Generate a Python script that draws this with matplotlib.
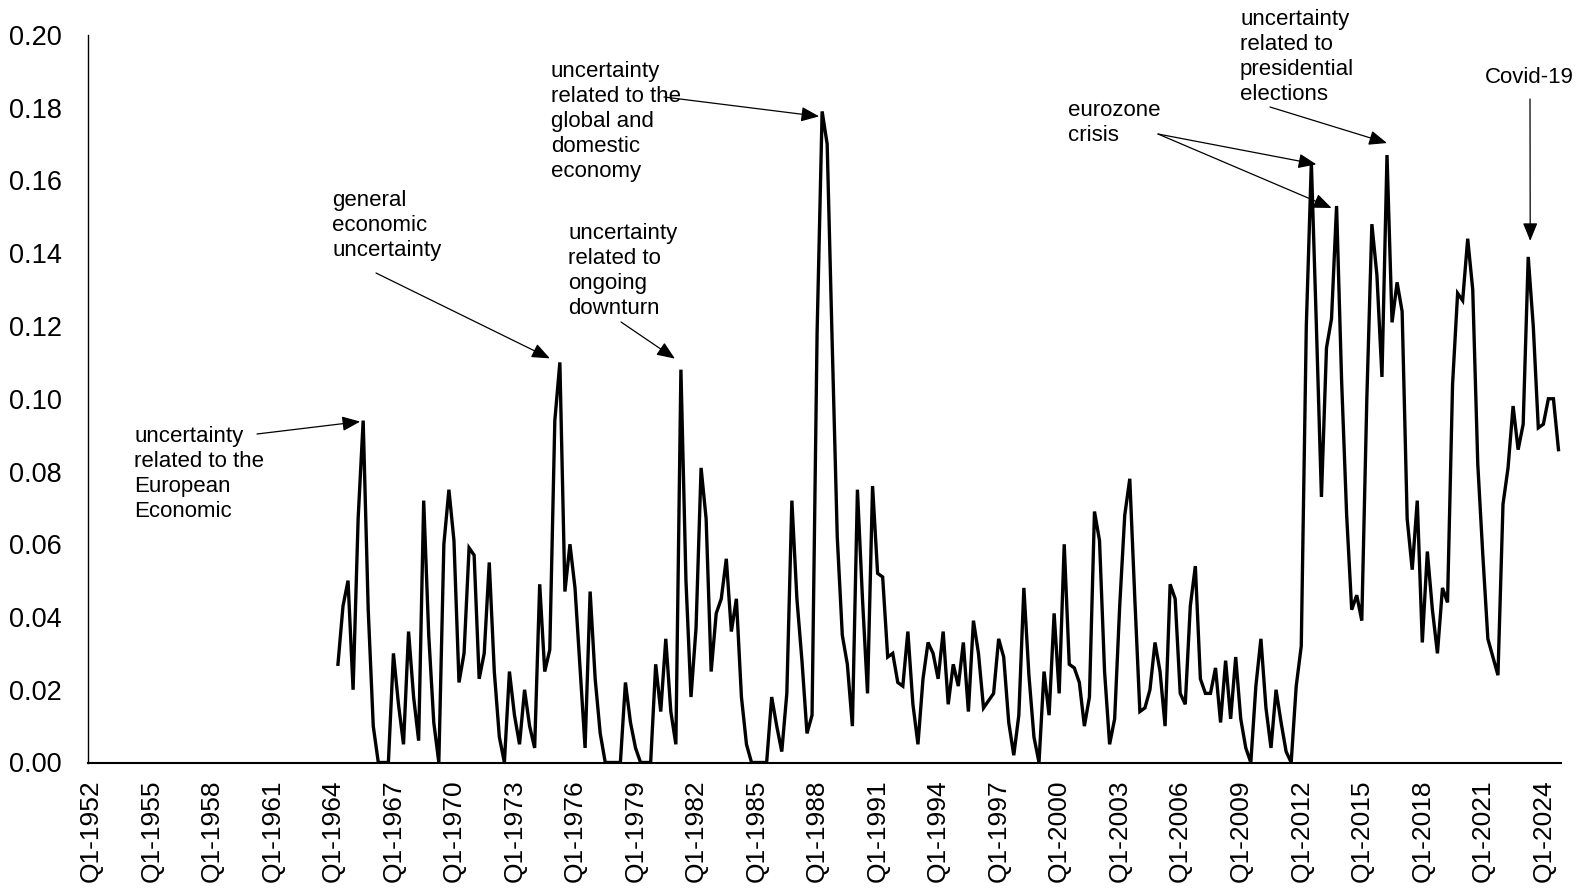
import matplotlib
matplotlib.use("Agg")
import matplotlib.pyplot as plt
from matplotlib.transforms import offset_copy
import numpy as np

plt.rcParams['font.family'] = ['Liberation Sans', 'DejaVu Sans']

# quarterly categories Q1-1952 ... Q4-2024
years = list(range(1952, 2025))
quarters = [f"Q{k}-{y}" for y in years for k in (1, 2, 3, 4)]
tick_labels = [f"Q1-{y}" for y in years[::3]]

# index values, first observation Q2-1964
start_label = "Q2-1964"
values = [
    0.027, 0.043, 0.050, 0.020, 0.067, 0.094, 0.042, 0.010, 0.0, 0.0,
    0.0, 0.030, 0.016, 0.005, 0.036, 0.018, 0.006, 0.072, 0.035, 0.011,
    0.0, 0.060, 0.075, 0.061, 0.022, 0.030, 0.059, 0.057, 0.023, 0.030,
    0.055, 0.025, 0.007, 0.0, 0.025, 0.013, 0.005, 0.020, 0.010, 0.004,
    0.049, 0.025, 0.031, 0.094, 0.110, 0.047, 0.060, 0.048, 0.026, 0.004,
    0.047, 0.023, 0.008, 0.0, 0.0, 0.0, 0.0, 0.022, 0.011, 0.004,
    0.0, 0.0, 0.0, 0.027, 0.014, 0.034, 0.014, 0.005, 0.108, 0.050,
    0.018, 0.037, 0.081, 0.067, 0.025, 0.041, 0.045, 0.056, 0.036, 0.045,
    0.018, 0.005, 0.0, 0.0, 0.0, 0.0, 0.018, 0.010, 0.003, 0.019,
    0.072, 0.045, 0.028, 0.008, 0.013, 0.118, 0.179, 0.170, 0.115, 0.062,
    0.035, 0.027, 0.010, 0.075, 0.045, 0.019, 0.076, 0.052, 0.051, 0.029,
    0.030, 0.022, 0.021, 0.036, 0.016, 0.005, 0.023, 0.033, 0.030, 0.023,
    0.036, 0.016, 0.027, 0.021, 0.033, 0.014, 0.039, 0.030, 0.015, 0.017,
    0.019, 0.034, 0.029, 0.011, 0.002, 0.013, 0.048, 0.024, 0.007, 0.0,
    0.025, 0.013, 0.041, 0.019, 0.060, 0.027, 0.026, 0.022, 0.010, 0.018,
    0.069, 0.061, 0.025, 0.005, 0.012, 0.043, 0.068, 0.078, 0.045, 0.014,
    0.015, 0.020, 0.033, 0.025, 0.010, 0.049, 0.045, 0.019, 0.016, 0.043,
    0.054, 0.023, 0.019, 0.019, 0.026, 0.011, 0.028, 0.012, 0.029, 0.012,
    0.004, 0.0, 0.021, 0.034, 0.015, 0.004, 0.020, 0.011, 0.003, 0.0,
    0.021, 0.032, 0.120, 0.165, 0.120, 0.073, 0.114, 0.122, 0.153, 0.105,
    0.068, 0.042, 0.046, 0.039, 0.100, 0.148, 0.134, 0.106, 0.167, 0.121,
    0.132, 0.124, 0.067, 0.053, 0.072, 0.033, 0.058, 0.042, 0.030, 0.048,
    0.044, 0.104, 0.129, 0.127, 0.144, 0.130, 0.082, 0.057, 0.034, 0.029,
    0.024, 0.071, 0.081, 0.098, 0.086, 0.093, 0.139, 0.120, 0.092, 0.093,
    0.100, 0.100, 0.086,
]

# annotations: text, peak quarter, text position (fig px), arrow start (fig px), tip offset (px)
notes = [
    ("uncertainty\nrelated to the\nEuropean\nEconomic", "Q3-1965", (134, 464), (257, 456), (-3, -1)),
    ("general\neconomic\nuncertainty", "Q2-1975", (332, 700), (376, 617), (-10, 4)),
    ("uncertainty\nrelated to\nongoing\ndownturn", "Q2-1981", (568, 667), (621, 568), (-6, 11)),
    ("uncertainty\nrelated to the\nglobal and\ndomestic\neconomy", "Q2-1988", (551, 829), (664, 793), (-3, -5)),
    ("eurozone\ncrisis", "Q3-2012", (1068, 790), (1158, 756), (5, -2)),
    (None, "Q4-2013", None, (1158, 756), (-5, -2)),
    ("uncertainty\nrelated to\npresidential\nelections", "Q2-2016", (1240, 881), (1270, 783), (0, 12)),
    ("Covid-19", "Q2-2023", (1485, 823), (1530, 791), (2, 16)),
]

W, H = 1577, 890
fig = plt.figure(figsize=(W / 100, H / 100), dpi=100)
ax = fig.add_axes([88.3 / W, 1 - 762.5 / H, (1561 - 88.3) / W, (762.5 - 35) / H])

i0 = quarters.index(start_label)
x = np.arange(i0, i0 + len(values))
ax.plot(x, values, color='black', linewidth=2.4, solid_joinstyle='miter')

ax.set_xlim(-0.5, len(quarters) - 0.5)
ax.set_ylim(0, 0.20)
ax.set_yticks(np.arange(0, 0.201, 0.02))
ax.set_yticklabels([f"{v:.2f}" for v in np.arange(0, 0.201, 0.02)])
ax.set_xticks([quarters.index(t) for t in tick_labels])
ax.set_xticklabels(tick_labels, rotation=90)
ax.tick_params(axis='y', length=0, pad=19, labelsize=19.5)
ax.tick_params(axis='x', length=0, pad=12, labelsize=19)
for s in ('top', 'right'):
    ax.spines[s].set_visible(False)
ax.spines['left'].set_linewidth(1.0)
ax.spines['bottom'].set_linewidth(1.5)

for text, peak, tpos, start, off in notes:
    q = quarters.index(peak)
    v = values[q - i0]
    if text:
        fig.text(tpos[0], tpos[1], text, transform=None, fontsize=16,
                 ha='left', va='top', linespacing=1.25)
    tip = offset_copy(ax.transData, fig=fig, x=off[0], y=off[1], units='dots')
    ax.annotate('', xy=(q, v), xycoords=tip, xytext=start, textcoords='figure pixels',
                arrowprops=dict(arrowstyle='-|>,head_length=1.1,head_width=0.45',
                                mutation_scale=10, color='black', lw=0.9,
                                shrinkA=0, shrinkB=0))

fig.savefig('out.png', dpi=100)
